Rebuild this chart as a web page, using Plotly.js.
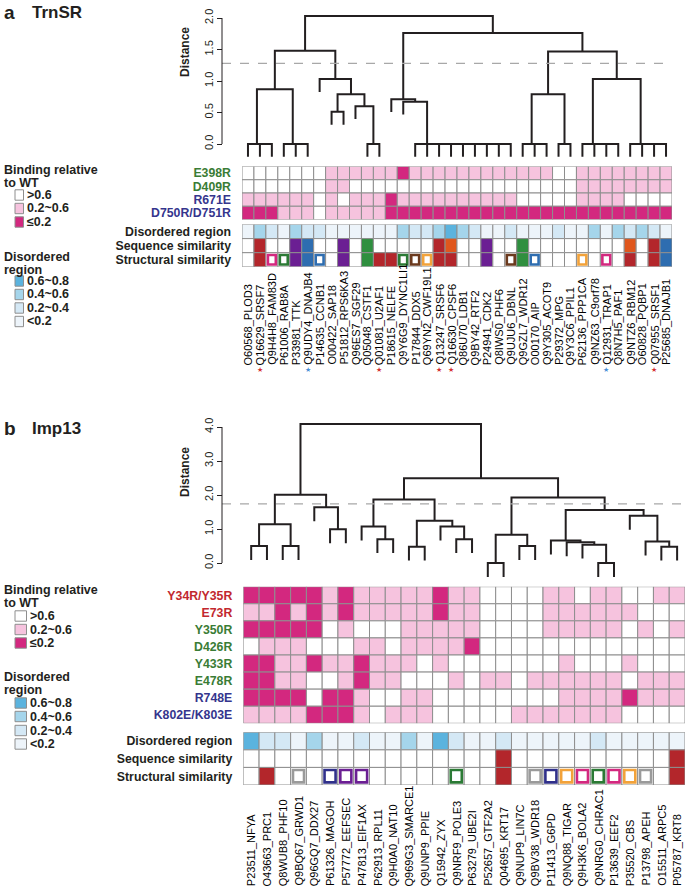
<!DOCTYPE html>
<html><head><meta charset="utf-8">
<script src="https://cdn.plot.ly/plotly-3.0.1.min.js"></script>
<style>html,body{margin:0;padding:0;background:#fff}#chart{width:685px;height:889px}</style>
</head><body><div id="chart"></div>
<script>
// ---------------- DATA ----------------
const colsA = ['O60568_PLOD3','Q16629_SRSF7','Q9H4H8_FAM83D','P61006_RAB8A','P33981_TTK','Q9UDY4_DNAJB4','P14635_CCNB1','O00422_SAP18','P51812_RPS6KA3','Q96ES7_SGF29','Q05048_CSTF1','Q01081_U2AF1','P18615_NELFE','Q9Y6G9_DYNC1LI1','P17844_DDX5','Q69YN2_CWF19L1','Q13247_SRSF6','Q16630_CPSF6','Q86U70_LDB1','Q9BY42_RTF2','P24941_CDK2','Q8IWS0_PHF6','Q9UJU6_DBNL','Q9GZL7_WDR12','O00170_AIP','Q9Y305_ACOT9','P29372_MPG','Q9Y3C6_PPIL1','P62136_PPP1CA','Q9NZ63_C9orf78','Q12931_TRAP1','Q8N7H5_PAF1','Q9NTZ6_RBM12','O60828_PQBP1','Q07955_SRSF1','P25685_DNAJB1'];
const starRedA = [2,12,17,18,35];
const starBlueA = [6,31];
const rowsA = ['E398R','D409R','R671E','D750R/D751R'];
// binding: 0 = >0.6, 1 = 0.2~0.6, 2 = <=0.2
const E398R = [0,0,0,0,0,0,0,1,1,1,1,1,1,2,1,1,1,1,1,1,1,1,1,1,1,1,0,0,1,1,1,1,1,1,1,1];
const D409R = [0,0,0,0,0,0,0,1,1,0,0,0,0,0,0,0,0,0,0,0,0,0,0,0,0,0,0,0,1,1,1,1,1,1,1,1];
const R671E = [1,1,1,1,1,1,0,1,0,1,1,1,2,1,1,1,1,1,1,1,1,1,1,0,0,0,0,0,1,1,1,1,0,0,0,0];
const D750R = [2,2,2,1,1,1,0,1,1,1,1,1,2,2,2,2,2,2,2,2,2,2,2,2,2,2,2,2,2,2,2,2,2,2,2,2];
// disordered: 0 = <0.2, 1 = 0.2~0.4, 2 = 0.4~0.6, 3 = 0.6~0.8
const disA = [0,2,1,0,2,1,1,0,0,0,0,0,0,2,1,1,2,3,2,1,0,0,1,0,0,0,1,0,0,2,0,2,1,2,1,0];
const seqA = ['-','R','-','-','P','B','-','-','P','-','G','-','-','-','-','-','R','O','-','-','P','-','-','G','-','-','-','-','-','-','-','-','O','-','R','B'];
const structA = ['-','R','m','g','P','B','b','-','P','-','G','R','R','g','n','o','R','R','-','-','P','-','n','G','b','-','-','-','o','-','m','-','R','-','R','B'];
// dendrogram A (hclust merge matrix, negative = leaf column)
const mergeA = [[-2,-3],[-1,1],[-5,-6],[-4,3],[2,4],[-8,-9],[-11,-12],[-10,7],[6,8],[-7,9],[5,10],
  [-22,-23],[-21,12],[-20,13],[-19,14],[-18,15],[-17,16],[-16,17],[-15,18],[-14,19],[-13,20],
  [-25,-26],[-24,22],[-27,-28],[23,24],[-31,-32],[-30,26],[-29,27],[-35,-36],[-34,29],[-33,30],[28,31],[25,32],[21,33],[11,34]];
const heightA = [0,0,0,0,0.87,0.51,0,0.60,0.79,1.03,1.48,
  0,0,0,0,0,0,0,0,0.67,0.71,
  0,0,0,0.79,0,0,0,0,0,0,1.03,1.47,1.76,2.03];
const cutA = 1.28;
const ticksA = [0,0.5,1,1.5,2];

const colsB = ['P23511_NFYA','O43663_PRC1','Q8WUB8_PHF10','Q9BQ67_GRWD1','Q96GQ7_DDX27','P61326_MAGOH','P57772_EEFSEC','P47813_EIF1AX','P62913_RPL11','Q9H0A0_NAT10','Q969G3_SMARCE1','Q9UNP9_PPIE','Q15942_ZYX','Q9NRF9_POLE3','P63279_UBE2I','P52657_GTF2A2','Q04695_KRT17','Q9NUP9_LIN7C','Q9BV38_WDR18','P11413_G6PD','Q9NQ88_TIGAR','Q9H3K6_BOLA2','Q9NRG0_CHRAC1','P13639_EEF2','P35520_CBS','P13798_APEH','O15511_ARPC5','P05787_KRT8'];
const rowsB = ['Y34R/Y35R','E73R','Y350R','D426R','Y433R','E478R','R748E','K802E/K803E'];
const Y34R = [2,2,2,2,2,1,2,1,1,1,1,1,2,1,1,0,0,0,0,1,1,0,1,1,0,0,1,1];
const E73R = [1,1,2,1,2,1,2,1,1,1,1,1,2,1,1,0,0,0,0,1,1,1,1,1,1,0,0,0];
const Y350R = [2,2,2,2,2,0,1,0,0,0,1,1,1,1,1,0,0,0,0,1,1,1,1,1,0,1,0,1];
const D426R = [0,1,1,1,0,0,0,1,1,0,1,1,1,1,2,0,0,0,0,0,0,0,0,0,0,0,0,0];
const Y433R = [2,2,1,1,2,1,1,2,1,1,1,0,1,0,0,0,0,0,0,0,1,0,0,0,1,0,0,0];
const E478R = [2,2,1,1,0,0,1,2,1,1,0,0,0,1,0,1,1,0,1,1,1,1,1,1,0,1,1,1];
const R748E = [2,2,2,2,0,2,2,1,0,0,1,1,0,0,0,0,0,0,0,0,1,1,1,1,2,1,1,1];
const K802E = [1,1,1,1,2,2,2,1,0,1,1,1,0,0,0,0,0,1,1,1,1,1,1,1,0,0,0,0];
const disB = [3,1,1,0,2,0,0,1,0,0,2,0,3,1,0,0,1,0,0,0,0,0,1,0,0,0,0,0];
const seqB = ['-','-','-','-','-','-','-','-','-','-','-','-','-','-','-','-','R','-','-','-','-','-','-','-','-','-','-','R'];
const structB = ['-','R','-','y','-','v','p','p','-','-','-','-','-','g','-','-','R','-','y','v','o','m','g','m','o','y','-','R'];
const mergeB = [[-1,-2],[-3,-4],[1,2],[-6,-7],[-5,4],[3,5],[-9,-10],[-8,7],[-11,-12],[-14,-15],[-13,10],[9,11],[8,12],
  [-16,-17],[-18,-19],[14,15],[-23,-24],[-22,17],[-21,18],[-20,19],[-27,-28],[-26,21],[-25,22],[20,23],[16,24],[13,25],[6,26]];
const heightB = [0.50,0.50,1.14,0.99,1.64,2.01,0.70,1.07,0.48,0.70,1.07,1.24,1.87,
  0.0,0.50,0.83,0.0,0.54,0.61,0.66,0.48,0.63,1.39,1.56,1.93,2.49,4.09];
const cutB = 1.74;
const ticksB = [0,1,2,3,4];

// ---------------- STYLE / LAYOUT ----------------
const W = 685, H = 889;
const FONT = '"Liberation Sans", Arial, Helvetica, sans-serif';
const INK = '#231f20';
const BIND_COL = ['#ffffff', '#f6c3de', '#d3287f'];
const DIS_COL = ['#edf4fa', '#d4e8f5', '#a5d5eb', '#5bb3de'];
const CAT_COL = {R:'#b3262b', P:'#6b1f93', B:'#2e6db0', G:'#2f8f3f', O:'#e0571d',
  r:'#b3262b', p:'#6b1f93', b:'#2e6db0', g:'#2b7a35', o:'#f2a23a', n:'#6b3a1e', m:'#d3287f', v:'#30308a', y:'#9a9a9a'};
const GREEN = '#3a7c35', NAVY = '#35358d', RED = '#c2282e';
const rowColA = [GREEN, GREEN, NAVY, NAVY];
const rowColB = [RED, RED, GREEN, GREEN, GREEN, GREEN, NAVY, NAVY];
const CELL_LINE = {color:'#8e8e8e', width:1};

const CAL_A = {zero:144, ppu:63, top:0, bot:165};
const CAL_B = {zero:563, ppu:34, top:405, bot:583};
const AXIS_X = 222;

function py(p){ return 1 - p / H; }
function domY(t, b){ return [1 - b / H, 1 - t / H]; }
function rangeOf(c){ return [(c.zero - c.bot) / c.ppu, (c.zero - c.top) / c.ppu]; }

function dendro(merge, heights){
  const hang = 0.1 * Math.max(...heights);
  const pos = []; const xs = []; const ys = [];
  const child = c => c < 0 ? {x:-c, leaf:true} : {x:pos[c-1], y:heights[c-1], leaf:false};
  merge.forEach((m, i) => {
    const h = heights[i];
    const a = child(m[0]), b = child(m[1]);
    const ya = a.leaf ? h - hang : a.y;
    const yb = b.leaf ? h - hang : b.y;
    xs.push(a.x, a.x, b.x, b.x, null);
    ys.push(ya, h, h, yb, null);
    pos[i] = (a.x + b.x) / 2;
  });
  return {xs, ys};
}

const shapes = [];
const annotations = [];

function cellRow(xref, yref, vals, r, colorFn){
  vals.forEach((v, i) => {
    const c = i + 1;
    shapes.push({type:'rect', xref, yref, x0:c-0.5, x1:c+0.5, y0:r-0.5, y1:r+0.5,
      fillcolor: colorFn(v), line: CELL_LINE, layer:'above'});
  });
}
function catRow(xref, yref, vals, r, insetX, insetY){
  vals.forEach((v, i) => {
    const c = i + 1;
    const filled = v !== '-' && v === v.toUpperCase();
    shapes.push({type:'rect', xref, yref, x0:c-0.5, x1:c+0.5, y0:r-0.5, y1:r+0.5,
      fillcolor: filled ? CAT_COL[v] : '#ffffff', line: CELL_LINE, layer:'above'});
    if (v !== '-' && !filled){
      shapes.push({type:'rect', xref, yref, x0:c-0.5+insetX, x1:c+0.5-insetX, y0:r-0.5+insetY, y1:r+0.5-insetY,
        fillcolor:'#ffffff', line:{color:CAT_COL[v], width:2.6}, layer:'above'});
    }
  });
}

[E398R, D409R, R671E, D750R].forEach((row, r) => cellRow('x', 'y2', row, r, v => BIND_COL[v]));
cellRow('x', 'y3', disA, 0, v => DIS_COL[v]);
catRow('x', 'y3', seqA, 1, 0.17, 0.16);
catRow('x', 'y3', structA, 2, 0.17, 0.16);
[Y34R, E73R, Y350R, D426R, Y433R, E478R, R748E, K802E].forEach((row, r) => cellRow('x2', 'y5', row, r, v => BIND_COL[v]));
cellRow('x2', 'y6', disB, 0, v => DIS_COL[v]);
catRow('x2', 'y6', seqB, 1, 0.15, 0.15);
catRow('x2', 'y6', structB, 2, 0.15, 0.15);

shapes.push({type:'line', xref:'paper', yref:'y', x0:AXIS_X/W, x1:668/W, y0:cutA, y1:cutA, line:{color:'#a8a8a8', width:1.3, dash:'dash'}});
shapes.push({type:'line', xref:'paper', yref:'y4', x0:AXIS_X/W, x1:684/W, y0:cutB, y1:cutB, line:{color:'#a8a8a8', width:1.3, dash:'dash'}});
shapes.push({type:'line', xref:'paper', yref:'y', x0:AXIS_X/W, x1:AXIS_X/W, y0:ticksA[0], y1:ticksA[ticksA.length-1], line:{color:INK, width:1}});
shapes.push({type:'line', xref:'paper', yref:'y4', x0:AXIS_X/W, x1:AXIS_X/W, y0:ticksB[0], y1:ticksB[ticksB.length-1], line:{color:INK, width:1}});

function colLabels(cols, xref, yBottom){
  cols.forEach((t, i) => annotations.push({xref, yref:'paper', x:i+1, y:py(yBottom), text:t, textangle:-90,
    xanchor:'center', yanchor:'bottom', showarrow:false, borderpad:0, font:{family:FONT, size:11, color:'#000'}}));
}
colLabels(colsA, 'x', 366);
colLabels(colsB, 'x2', 887);
starRedA.forEach(c => annotations.push({xref:'x', yref:'paper', x:c, y:py(369), text:'★', showarrow:false, yanchor:'middle', font:{size:7, color:'#d5302f'}}));
starBlueA.forEach(c => annotations.push({xref:'x', yref:'paper', x:c, y:py(369), text:'★', showarrow:false, yanchor:'middle', font:{size:7, color:'#4b8fd8'}}));

function txt(x, y, t, size, opts){
  annotations.push(Object.assign({xref:'paper', yref:'paper', x:x/W, y:py(y), text:t, showarrow:false,
    xanchor:'left', yanchor:'middle', borderpad:0, font:{family:FONT, size:size, color:INK}}, opts||{}));
}
txt(3, 12, '<b>a</b>', 19); txt(31, 12, '<b>TrnSR</b>', 17);
txt(3, 428, '<b>b</b>', 19); txt(31, 428, '<b>Imp13</b>', 17);
txt(185, 52, '<b>Distance</b>', 12, {textangle:-90, xanchor:'center'});
txt(185, 472, '<b>Distance</b>', 12, {textangle:-90, xanchor:'center'});

function legend(cfg){
  txt(3, cfg.bindY[0], '<b>Binding relative</b>', 12.5);
  txt(3, cfg.bindY[1], '<b>to WT</b>', 12.5);
  const bl = ['>0.6', '0.2~0.6', '≤0.2'];
  BIND_COL.forEach((c, i) => {
    const yc = cfg.bindSw[i];
    shapes.push({type:'rect', xref:'paper', yref:'paper', x0:15/W, x1:(15+cfg.sw)/W, y0:py(yc+5.2), y1:py(yc-5.2), fillcolor:c, line:CELL_LINE});
    txt(17+cfg.sw, yc, '<b>' + bl[i] + '</b>', 12.5);
  });
  txt(3, cfg.disY[0], '<b>Disordered</b>', 12.5);
  txt(3, cfg.disY[1], '<b>region</b>', 12.5);
  const dl = ['0.6~0.8', '0.4~0.6', '0.2~0.4', '<0.2'];
  [3, 2, 1, 0].forEach((k, i) => {
    const yc = cfg.disSw[i];
    shapes.push({type:'rect', xref:'paper', yref:'paper', x0:15/W, x1:(15+cfg.sw)/W, y0:py(yc+5.2), y1:py(yc-5.2), fillcolor:DIS_COL[k], line:CELL_LINE});
    txt(17+cfg.sw, yc, '<b>' + dl[i] + '</b>', 12.5);
  });
}
legend({bindY:[170,183], bindSw:[195,208.5,222], disY:[257,270], disSw:[281,294.5,308,321.5], sw:8.5});
legend({bindY:[590,603], bindSw:[616,629.5,643], disY:[677,690], disSw:[703,716.5,730.5,744], sw:11.5});

function tickText(rows, cols){ return rows.map((t, i) => '<b><span style="color:' + cols[i] + '">' + t + '</span></b>'); }
const annRows = ['<b>Disordered region</b>', '<b>Sequence similarity</b>', '<b>Structural similarity</b>'];

const dA = dendro(mergeA, heightA);
const dB = dendro(mergeB, heightB);
const traces = [
  {type:'scatter', mode:'lines', x:dA.xs, y:dA.ys, xaxis:'x', yaxis:'y', line:{color:INK, width:2}, hoverinfo:'skip', connectgaps:false},
  {type:'scatter', mode:'lines', x:dB.xs, y:dB.ys, xaxis:'x2', yaxis:'y4', line:{color:INK, width:2}, hoverinfo:'skip', connectgaps:false},
  {type:'scatter', mode:'markers', x:[1], y:[0], xaxis:'x', yaxis:'y2', marker:{opacity:0}, hoverinfo:'skip'},
  {type:'scatter', mode:'markers', x:[1], y:[0], xaxis:'x', yaxis:'y3', marker:{opacity:0}, hoverinfo:'skip'},
  {type:'scatter', mode:'markers', x:[1], y:[0], xaxis:'x2', yaxis:'y5', marker:{opacity:0}, hoverinfo:'skip'},
  {type:'scatter', mode:'markers', x:[1], y:[0], xaxis:'x2', yaxis:'y6', marker:{opacity:0}, hoverinfo:'skip'}
];

const hid = {visible:false, fixedrange:true};
const rowAxis = (dom, n, anchor, text) => ({domain:dom, range:[n-0.5, -0.5], anchor, tickvals:[...Array(n).keys()], ticktext:text,
  ticks:'', showgrid:false, zeroline:false, showline:false, ticklabelstandoff:10, tickfont:{family:FONT, size:12.3, color:INK}, fixedrange:true});
const distAxis = (dom, cal, ticks) => ({domain:dom, range:rangeOf(cal), anchor:'free', position:AXIS_X/W, tickvals:ticks,
  ticktext:ticks.map(v => v.toFixed(1)), tickangle:-90, ticks:'outside', ticklen:5, tickwidth:1, tickcolor:INK,
  showgrid:false, zeroline:false, showline:false, tickfont:{family:FONT, size:11, color:INK}, fixedrange:true});

const layout = {
  width:W, height:H, margin:{l:0, r:0, t:0, b:0}, paper_bgcolor:'#ffffff', plot_bgcolor:'rgba(0,0,0,0)', showlegend:false,
  xaxis: Object.assign({domain:[242/W, 672/W], range:[0.5, colsA.length + 0.5], anchor:'y2'}, hid),
  xaxis2: Object.assign({domain:[243.3/W, 685/W], range:[0.5, colsB.length + 0.5], anchor:'y5'}, hid),
  yaxis: distAxis(domY(CAL_A.top, CAL_A.bot), CAL_A, ticksA),
  yaxis2: rowAxis(domY(166.5, 219.5), 4, 'x', tickText(rowsA, rowColA)),
  yaxis3: rowAxis(domY(224.5, 266.8), 3, 'x', annRows),
  yaxis4: distAxis(domY(CAL_B.top, CAL_B.bot), CAL_B, ticksB),
  yaxis5: rowAxis(domY(586.7, 723.3), 8, 'x2', tickText(rowsB, rowColB)),
  yaxis6: rowAxis(domY(732.3, 785), 3, 'x2', annRows),
  shapes, annotations
};
Plotly.newPlot('chart', traces, layout, {staticPlot:true, displayModeBar:false});
</script></body></html>
